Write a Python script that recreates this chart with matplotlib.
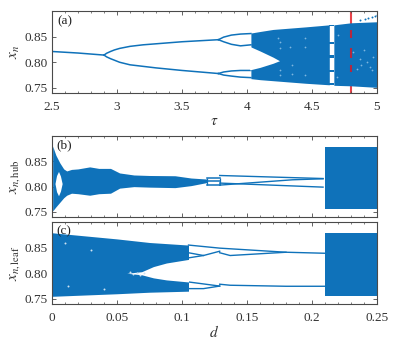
import matplotlib
matplotlib.use("Agg")
import matplotlib.pyplot as plt
from matplotlib.ticker import MultipleLocator

plt.rcParams["font.family"] = ["Liberation Serif", "DejaVu Serif"]
plt.rcParams["mathtext.fontset"] = "stix"

BLUE = "#0f72ba"
GRAY = "#4a4a4a"

# panel (a): branches against tau
a_ticks = [2.5, 3, 3.5, 4, 4.5, 5]
a_ticklabels = ["2.5", "3", "3.5", "4", "4.5", "5"]
a_single_t = [2.5, 2.7, 2.9]
a_single_x = [0.821, 0.818, 0.814]
a_up_t = [2.9, 2.92, 2.95, 2.98, 3.02, 3.1, 3.2, 3.3, 3.5, 3.78]
a_up_x = [0.814, 0.8175, 0.821, 0.824, 0.827, 0.831, 0.834, 0.836, 0.840, 0.844]
a_lo_t = [2.9, 2.92, 2.95, 2.98, 3.02, 3.1, 3.2, 3.3, 3.5, 3.78]
a_lo_x = [0.814, 0.8105, 0.807, 0.804, 0.800, 0.795, 0.792, 0.789, 0.784, 0.778]
a_p4_t = [3.78, 3.82, 3.88, 3.95, 4.03]
a_p4_1 = [0.844, 0.849, 0.853, 0.855, 0.856]
a_p4_2 = [0.844, 0.840, 0.835, 0.832, 0.834]
a_p4_3 = [0.778, 0.781, 0.783, 0.784, 0.784]
a_p4_4 = [0.778, 0.775, 0.773, 0.771, 0.770]

# chaotic band of (a)
a_band_t = [4.03, 4.1, 4.2, 4.25, 4.3, 4.45, 4.633]
a_band_top = [0.857, 0.860, 0.864, 0.865, 0.866, 0.869, 0.873]
a_band_bot = [0.768, 0.766, 0.764, 0.763, 0.762, 0.759, 0.756]
a_wedge_t = [4.02, 4.1, 4.2, 4.25]
a_wedge_hi = [0.831, 0.822, 0.810, 0.803]
a_wedge_lo = [0.785, 0.790, 0.798, 0.803]
a_band2_t = [4.668, 4.8, 5.0]
a_band2_top = [0.873, 0.877, 0.879]
a_band2_bot = [0.755, 0.754, 0.751]
a_window_t = [4.633, 4.668]
a_window_lo = [0.870, 0.835, 0.8085, 0.781, 0.756]
a_window_hi = [0.873, 0.839, 0.814, 0.784, 0.760]
a_holes_t = [4.446, 4.446, 4.446, 4.331, 4.254, 4.254, 4.241, 4.344, 4.344, 4.703, 4.69,
             4.817, 4.869, 4.921, 4.97, 4.844, 4.946, 4.25, 4.25, 4.9, 4.88, 4.96]
a_holes_x = [0.8468, 0.8303, 0.7744, 0.8303, 0.827, 0.7744, 0.8468, 0.7777, 0.794, 0.8534, 0.771,
             0.8205, 0.8073, 0.8007, 0.8105, 0.7876, 0.7908, 0.840, 0.785, 0.823, 0.795, 0.785]
a_out_t = [4.869, 4.908, 4.931, 4.96, 4.985, 4.997]
a_out_x = [0.8816, 0.8843, 0.8863, 0.8883, 0.8895, 0.8915]

tau_mark = 4.8
mark_lo = [0.847, 0.8085, 0.781]
mark_hi = [0.863, 0.827, 0.795]

# panel (b)
b_d = [0.0005, 0.003, 0.006, 0.009, 0.0113, 0.015, 0.02, 0.029, 0.036, 0.045, 0.052,
       0.063, 0.075, 0.0946, 0.107, 0.119]
b_top = [0.880, 0.862, 0.847, 0.835, 0.831, 0.834, 0.835, 0.839, 0.836, 0.836, 0.827,
         0.823, 0.822, 0.8215, 0.817, 0.815]
b_bot = [0.752, 0.760, 0.769, 0.778, 0.783, 0.787, 0.786, 0.783, 0.786, 0.787, 0.797,
         0.800, 0.799, 0.798, 0.802, 0.808]
b_hole_d = [0.0023, 0.0035, 0.005, 0.0065, 0.0078]
b_hole_hi = [0.806, 0.822, 0.830, 0.821, 0.806]
b_hole_lo = [0.806, 0.790, 0.782, 0.791, 0.806]
b_bars_d = [0.119, 0.129]
b_bars = [0.818, 0.811, 0.803]
b_line_d = [0.129, 0.2085]
b_line1 = [0.822, 0.816]
b_line2 = [0.807, 0.799]
b_line3_d = [0.129, 0.185, 0.2085]
b_line3 = [0.803, 0.8135, 0.8155]
b_box_d = [0.21, 0.25]
b_box_lo = 0.755
b_box_hi = 0.878

# panel (c)
c_ticks = [0, 0.05, 0.1, 0.15, 0.2, 0.25]
c_ticklabels = ["0", "0.05", "0.1", "0.15", "0.2", "0.25"]
c_d = [0.0, 0.05, 0.075, 0.105]
c_top = [0.879, 0.867, 0.860, 0.855]
c_bot = [0.755, 0.760, 0.763, 0.765]
c_hole_d = [0.0575, 0.069, 0.078, 0.088, 0.105]
c_hole_hi = [0.800, 0.803, 0.813, 0.820, 0.827]
c_hole_lo = [0.800, 0.797, 0.791, 0.787, 0.783]
c_holes_d = [0.060, 0.0625, 0.0655, 0.068, 0.071, 0.010, 0.012, 0.030, 0.040]
c_holes_x = [0.802, 0.798, 0.801, 0.797, 0.800, 0.860, 0.775, 0.845, 0.770]
c_l1_d = [0.105, 0.129, 0.18, 0.21]
c_l1 = [0.855, 0.849, 0.841, 0.839]
c_l2_d = [0.105, 0.1165, 0.129]
c_l2 = [0.840, 0.8346, 0.843]
c_l3_d = [0.105, 0.1165]
c_l3 = [0.830, 0.8346]
c_l4_d = [0.129, 0.137, 0.18]
c_l4 = [0.840, 0.8346, 0.841]
c_l5_d = [0.105, 0.129]
c_l5 = [0.783, 0.775]
c_l6_d = [0.105, 0.1165, 0.129]
c_l6 = [0.770, 0.770, 0.775]
c_l7_d = [0.129, 0.137, 0.18, 0.21]
c_l7 = [0.7786, 0.7766, 0.7746, 0.7746]
c_box_d = [0.21, 0.25]
c_box_lo = 0.755
c_box_hi = 0.878


def style(ax, ticks, labels, xmin):
    ax.set_ylim(0.74, 0.9)
    ax.set_yticks([0.75, 0.80, 0.85])
    ax.set_yticklabels(["0.75", "0.80", "0.85"])
    ax.set_xticks(ticks)
    ax.set_xticklabels(labels)
    ax.xaxis.set_minor_locator(MultipleLocator(xmin))
    ax.tick_params(which="major", direction="in", top=True, right=True, length=3,
                   width=0.6, color=GRAY, labelcolor="#333333", labelsize=9.5, pad=3)
    ax.tick_params(axis="x", which="major", pad=6)
    ax.tick_params(which="minor", direction="in", top=True, length=1.6, width=0.5, color=GRAY)
    for s in ax.spines.values():
        s.set_color(GRAY)
        s.set_linewidth(0.8)


fig = plt.figure(figsize=(3.99, 3.47), dpi=100)
ax_a = fig.add_axes([52 / 399, 1 - 93 / 347, 325 / 399, 82 / 347])
ax_b = fig.add_axes([52 / 399, 1 - 217 / 347, 325 / 399, 81 / 347])
ax_c = fig.add_axes([52 / 399, 1 - 304 / 347, 325 / 399, 82 / 347])

# (a)
ax_a.axvline(tau_mark, color="#e8434a", lw=1.5, zorder=1)
ax_a.plot(a_single_t, a_single_x, color=BLUE, lw=1.1, zorder=2)
for xs, ys in [(a_up_t, a_up_x), (a_lo_t, a_lo_x), (a_p4_t, a_p4_1), (a_p4_t, a_p4_2),
               (a_p4_t, a_p4_3), (a_p4_t, a_p4_4)]:
    ax_a.plot(xs, ys, color=BLUE, lw=1.1, zorder=2)
ax_a.fill_between(a_band_t, a_band_bot, a_band_top, color=BLUE, lw=0, zorder=2)
ax_a.fill_between(a_band2_t, a_band2_bot, a_band2_top, color=BLUE, lw=0, zorder=2)
ax_a.fill_between(a_wedge_t, a_wedge_lo, a_wedge_hi, color="white", lw=0, zorder=3)
for lo, hi in zip(a_window_lo, a_window_hi):
    ax_a.fill_between(a_window_t, lo, hi, color=BLUE, lw=0, zorder=2)
ax_a.scatter(a_holes_t, a_holes_x, s=1.6, color="#7db6e0", lw=0, zorder=4)
ax_a.scatter(a_out_t, a_out_x, s=2.0, color=BLUE, lw=0, zorder=2)
ax_a.vlines([tau_mark] * 3, mark_lo, mark_hi, color="#b3283f", lw=1.5, zorder=5)
ax_a.set_xlim(2.5, 5)
style(ax_a, a_ticks, a_ticklabels, 0.1)
ax_a.set_xlabel(r"$\tau$", fontsize=11, color="#333333", labelpad=1.5)
ax_a.set_ylabel(r"$x_n$", fontsize=11, color="#333333", labelpad=2)
ax_a.text(0.017, 0.88, "(a)", transform=ax_a.transAxes, fontsize=9.5, va="center", color="#222222")

# (b)
ax_b.fill_between(b_d, b_bot, b_top, color=BLUE, lw=0, zorder=2)
ax_b.fill_between(b_hole_d, b_hole_lo, b_hole_hi, color="white", lw=0, zorder=3)
for y in b_bars:
    ax_b.plot(b_bars_d, [y, y], color=BLUE, lw=1.1, zorder=2)
ax_b.vlines(b_bars_d, b_bars[2], b_bars[0], color=BLUE, lw=0.9, zorder=2)
ax_b.plot(b_line_d, b_line1, color=BLUE, lw=1.0, zorder=2)
ax_b.plot(b_line_d, b_line2, color=BLUE, lw=1.0, zorder=2)
ax_b.plot(b_line3_d, b_line3, color=BLUE, lw=1.0, zorder=2)
ax_b.fill_between(b_box_d, b_box_lo, b_box_hi, color=BLUE, lw=0, zorder=2)
ax_b.set_xlim(0, 0.25)
style(ax_b, c_ticks, c_ticklabels, 0.01)
ax_b.tick_params(labelbottom=False)
ax_b.set_ylabel(r"$x_{n,\mathrm{hub}}$", fontsize=11, color="#333333", labelpad=2)
ax_b.text(0.012, 0.88, "(b)", transform=ax_b.transAxes, fontsize=9.5, va="center", color="#222222")

# (c)
ax_c.fill_between(c_d, c_bot, c_top, color=BLUE, lw=0, zorder=2)
ax_c.fill_between(c_hole_d, c_hole_lo, c_hole_hi, color="white", lw=0, zorder=3)
ax_c.scatter(c_holes_d, c_holes_x, s=2.0, color="#cfe3f2", lw=0, zorder=4)
for xs, ys in [(c_l1_d, c_l1), (c_l2_d, c_l2), (c_l3_d, c_l3), (c_l4_d, c_l4),
               (c_l5_d, c_l5), (c_l6_d, c_l6), (c_l7_d, c_l7)]:
    ax_c.plot(xs, ys, color=BLUE, lw=1.0, zorder=2)
ax_c.fill_between(c_box_d, c_box_lo, c_box_hi, color=BLUE, lw=0, zorder=2)
ax_c.set_xlim(0, 0.25)
style(ax_c, c_ticks, c_ticklabels, 0.01)
ax_c.set_xlabel(r"$d$", fontsize=11, color="#333333", labelpad=0)
ax_c.set_ylabel(r"$x_{n,\mathrm{leaf}}$", fontsize=11, color="#333333", labelpad=2)
ax_c.text(0.012, 0.89, "(c)", transform=ax_c.transAxes, fontsize=9.5, va="center", color="#222222")

fig.savefig("out.png", dpi=100)
